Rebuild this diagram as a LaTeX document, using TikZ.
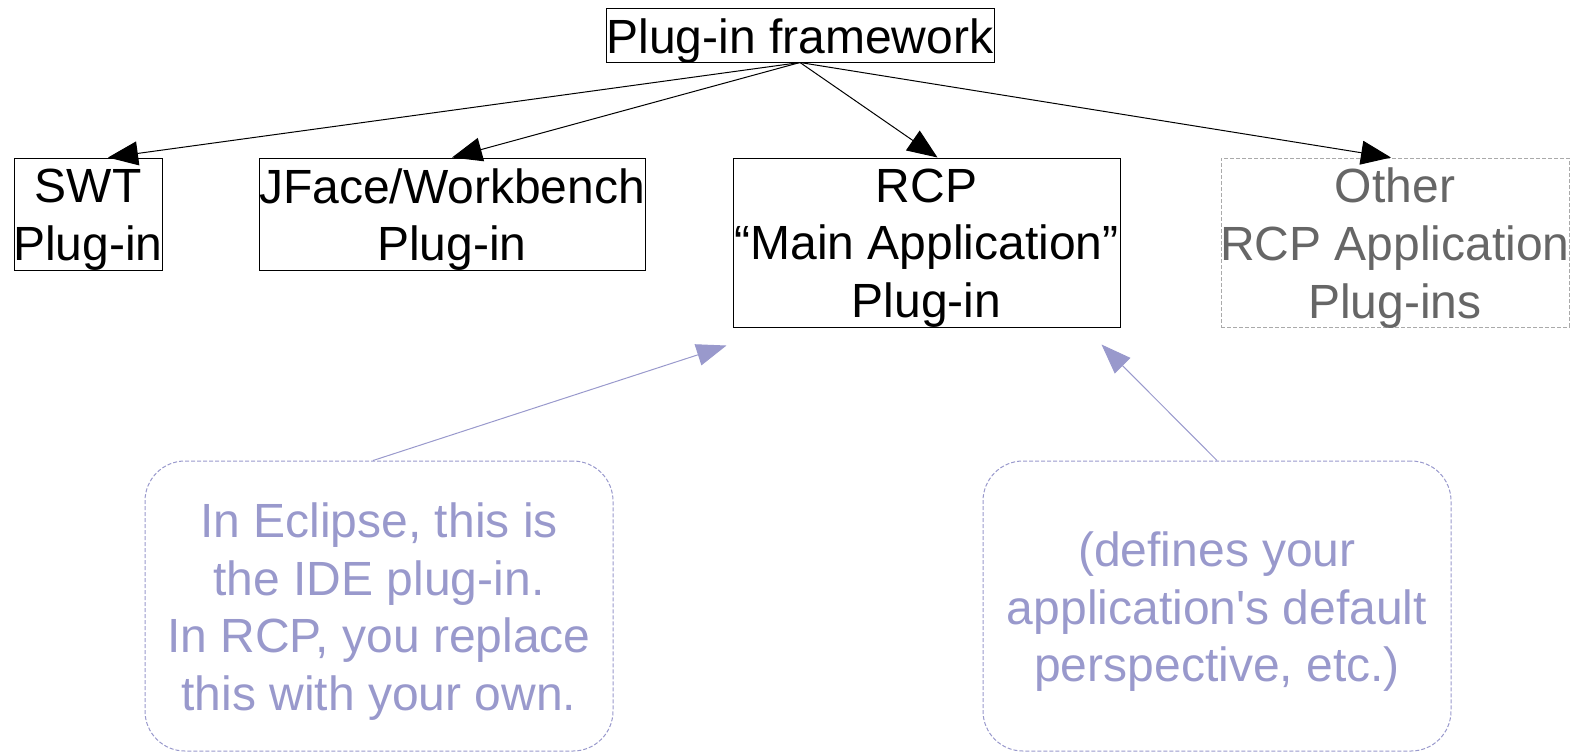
\documentclass[tikz,border=0pt]{standalone}
\usepackage{fontspec}
\setmainfont{Liberation Sans}
\usetikzlibrary{arrows.meta,calc}
\definecolor{lav}{HTML}{9999CC}
\definecolor{othergray}{HTML}{666666}
\definecolor{dashgray}{HTML}{AAAAAA}
\tikzset{
  txt/.style={font=\fontsize{24}{28.8}\selectfont, align=center, inner sep=0pt},
  frame/.style={inner sep=0pt, line width=0.5pt},
  box/.style={frame, draw=black},
  otherbox/.style={frame, draw=dashgray, dash pattern=on 2pt off 1pt},
  note/.style={frame, draw=lav, dash pattern=on 2pt off 1pt, rounded corners=20pt},
  tin/.style={label={[txt, yshift=-2.8pt]center:{#1}}},
  tinother/.style={label={[txt, text=othergray, yshift=-2.8pt]center:{#1}}},
  tinnote/.style={label={[txt, text=lav, yshift=-2.8pt]center:{#1}}},
  blackarrow/.style={-{Triangle[length=15pt,width=12pt]}, line width=0.5pt, black},
  lavarrow/.style={-{Triangle[length=15pt,width=11pt]}, line width=0.5pt, lav}
}
\begin{document}
\begin{tikzpicture}[x=0.5pt,y=-0.5pt]
\useasboundingbox (0,0) rectangle (1580,752);
\node[box, minimum width=194pt, minimum height=27pt, tin={Plug-in framework}] (top) at (800,35) {};
\node[box, minimum width=74pt, minimum height=56pt, tin={SWT\\Plug-in}] (swt) at (88,214) {};
\node[box, minimum width=193pt, minimum height=56pt, tin={JFace/Workbench\\Plug-in}] (jface) at (452,214) {};
\node[box, minimum width=193.5pt, minimum height=84.5pt, tin={RCP\\“Main Application”\\Plug-in}] (rcp) at (926.5,242.5) {};
\node[otherbox, minimum width=174pt, minimum height=84.5pt, tinother={Other\\RCP Application\\Plug-ins}] (other) at (1395,242.5) {};
\node[note, minimum width=234pt, minimum height=145pt, tinnote={In Eclipse, this is\\the IDE plug-in.\\In RCP, you replace\\this with your own.}] (n1) at (379,606) {};
\node[note, minimum width=234pt, minimum height=145pt, tinnote={(defines your\\application\textquotesingle s default\\perspective, etc.)}] (n2) at (1217,606) {};
\draw[blackarrow] (top.south) -- ($(swt.north)+(20,0)$);
\draw[blackarrow] (top.south) -- (jface.north);
\draw[blackarrow] (top.south) -- ($(rcp.north)+(11,0)$);
\draw[blackarrow] (top.south) -- ($(other.north)+(-4,0)$);
\draw[lavarrow] ($(n1.north)+(-6,0)$) -- ($(rcp.south west)+(-6,18)$);
\draw[lavarrow] (n2.north) -- ($(rcp.south east)+(-19,17)$);
\end{tikzpicture}
\end{document}
